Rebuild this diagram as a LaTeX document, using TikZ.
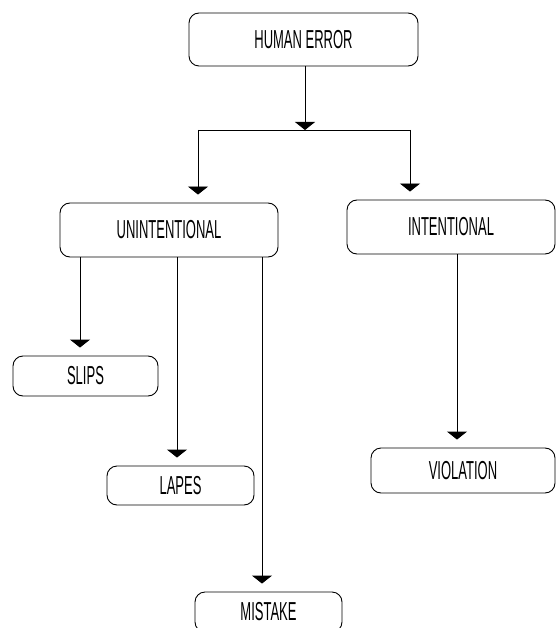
\documentclass[tikz,border=0pt]{standalone}
\usepackage{fontspec}
\setmainfont[FakeStretch=0.5]{Liberation Sans}
\usetikzlibrary{arrows.meta}
\tikzset{
  box/.style={draw,rounded corners=10pt,line width=0.9pt,inner sep=0pt,
    font=\fontsize{26pt}{26pt}\selectfont},
  arr/.style={-{Triangle[width=20pt,length=8pt]},line width=0.9pt,shorten >=8pt}
}
\begin{document}
\begin{tikzpicture}
[x=1pt,y=-1pt]
\useasboundingbox (0,0) rectangle (556,628);

\node[box,minimum width=229pt,minimum height=53pt] (human) at (303.5,39.5) {HUMAN ERROR};
\node[box,minimum width=218pt,minimum height=54pt] (unint) at (169,230) {UNINTENTIONAL};
\node[box,minimum width=208pt,minimum height=54pt] (intent) at (451,227) {INTENTIONAL};
\node[box,minimum width=145pt,minimum height=40pt] (slips) at (85.5,376) {SLIPS};
\node[box,minimum width=147pt,minimum height=39pt] (lapes) at (180.5,485.5) {LAPES};
\node[box,minimum width=147pt,minimum height=40pt] (mistake) at (268.5,612) {MISTAKE};
\node[box,minimum width=184pt,minimum height=45pt] (viol) at (463,470.5) {VIOLATION};

\coordinate (split) at (305,130);
\coordinate (splitL) at (198,130);
\coordinate (splitR) at (410,130);

\draw[arr,shorten >=0pt] (human.south -| split) -- (split);
\draw[line width=0.9pt] (splitL) -- (splitR);
\draw[arr] (splitL) -- (unint.north -| splitL);
\draw[arr] (splitR) -- (intent.north -| splitR);

\draw[arr] (unint.south -| 80,0) -- (slips.north -| 80,0);
\draw[arr] (unint.south -| 177,0) -- (lapes.north -| 177,0);
\draw[arr] (unint.south -| 262,0) -- (mistake.north -| 262,0);
\draw[arr] (intent.south -| 457,0) -- (viol.north -| 457,0);
\end{tikzpicture}
\end{document}
